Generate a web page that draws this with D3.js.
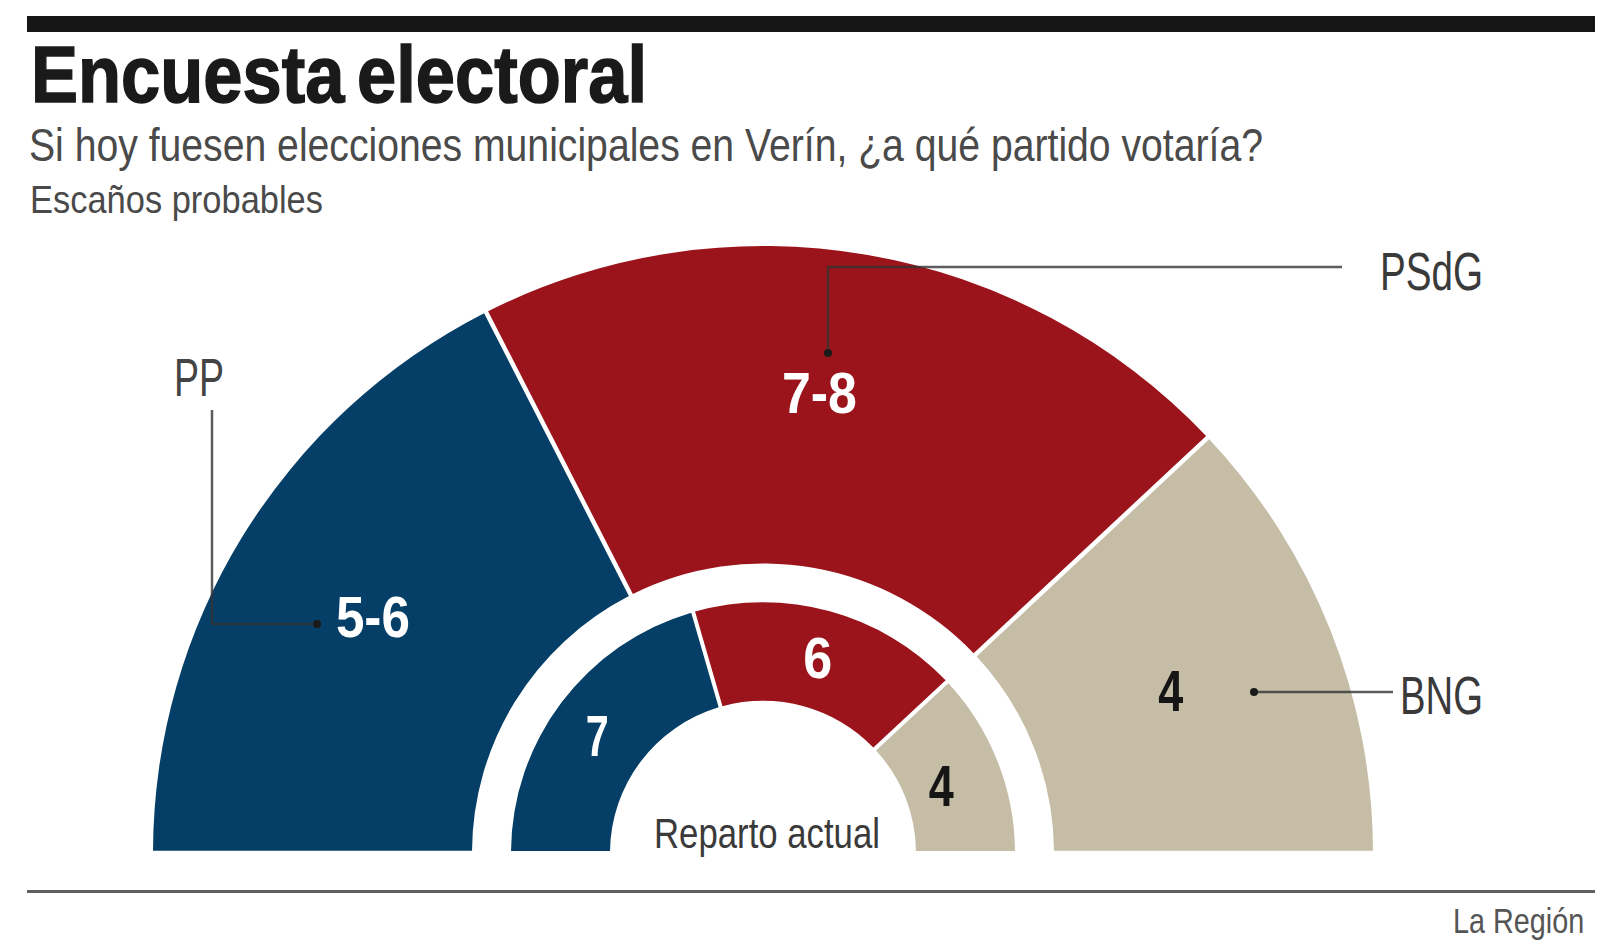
<!DOCTYPE html>
<html>
<head>
<meta charset="utf-8">
<title>Encuesta electoral</title>
<script src="https://cdn.jsdelivr.net/npm/d3@7"></script>
<style>
  html, body { margin: 0; padding: 0; background: #fff; }
  svg { display: block; }
</style>
</head>
<body>
<div id="chart"></div>
<script>
// Data
const parties = ["PP", "PSdG", "BNG"]
const probableLabels = ["5-6", "7-8", "4"]
const currentLabels = ["7", "6", "4"]
// degrees of the half circle each slice takes, measured on the picture
const probableShares = [63, 73.8, 43.2]
const currentShares = [73.9, 63, 43.1]
const partyColors = ["#053f67", "#9c141b", "#c5bda6"]
const labelColors = ["#ffffff", "#ffffff", "#151515"]

const svgWidth = 1600
const svgHeight = 945

const narrow = "'Liberation Sans Narrow', 'Liberation Sans', sans-serif"
const center = { x: 763, y: 853 }

let svg = d3
  .select("#chart")
  .append("svg")
  .attr("width", svgWidth)
  .attr("height", svgHeight)

// Seats around a half circle
let pie = d3
  .pie()
  .sort(null)
  .startAngle(-Math.PI / 2)
  .endAngle(Math.PI / 2)

let outerArc = d3.arc().innerRadius(291).outerRadius(610).padRadius(610).padAngle(4.5 / 610)
let innerArc = d3.arc().innerRadius(153).outerRadius(252).padRadius(252).padAngle(4 / 252)

let chartGroup = svg
  .append("g")
  .attr("transform", `translate(${center.x}, ${center.y})`)

function drawRing(values, labels, arc, offsets, widths) {
  let slices = pie(values)

  // the half circle in the picture is a little flatter than it is wide
  chartGroup
    .append("g")
    .attr("transform", "scale(1, 0.995)")
    .selectAll("path")
    .data(slices)
    .enter()
    .append("path")
    .attr("d", arc)
    .attr("fill", (d, i) => partyColors[i])

  chartGroup
    .append("g")
    .selectAll("text")
    .data(slices)
    .enter()
    .append("text")
    .attr("x", (d, i) => arc.centroid(d)[0] + offsets[i][0] - widths[i] / 2)
    .attr("y", (d, i) => arc.centroid(d)[1] + offsets[i][1])
    .attr("font-family", narrow)
    .attr("font-weight", "bold")
    .attr("font-size", 58)
    .attr("fill", (d, i) => labelColors[i])
    .attr("textLength", (d, i) => widths[i])
    .attr("lengthAdjust", "spacingAndGlyphs")
    .text((d, i) => labels[i])
}

drawRing(probableShares, probableLabels, outerArc, [[-6, 19], [-21, 4], [-11, 24]], [74, 75, 25])
drawRing(currentShares, currentLabels, innerArc, [[-4, 25], [1, 20], [-10, 27]], [23, 29, 25])

function addText(str, x, y, size, length, color, weight) {
  return svg
    .append("text")
    .attr("x", x)
    .attr("y", y)
    .attr("font-family", narrow)
    .attr("font-size", size)
    .attr("font-weight", weight || "normal")
    .attr("fill", color)
    .attr("textLength", length)
    .attr("lengthAdjust", "spacingAndGlyphs")
    .text(str)
}

// Header and footer
svg.append("rect").attr("x", 27).attr("y", 16).attr("width", 1568).attr("height", 16).attr("fill", "#161616")
svg.append("rect").attr("x", 27).attr("y", 890).attr("width", 1568).attr("height", 3).attr("fill", "#5f5f5f")

addText("Encuesta electoral", 31, 102, 80, 616, "#1a1a1a", "bold")
  .attr("word-spacing", -8)
  .attr("stroke", "#1a1a1a")
  .attr("stroke-width", 1.5)
addText("Si hoy fuesen elecciones municipales en Verín, ¿a qué partido votaría?", 29, 161, 46, 1234, "#4a4a4a")
addText("Escaños probables", 30, 213, 39, 293, "#4a4a4a")
addText("Reparto actual", 654, 848, 42, 226, "#3a3a3a")

// squeezed by hand, textLength trips the edge check on this one
svg
  .append("text")
  .attr("transform", "translate(1453, 933) scale(0.8, 1)")
  .attr("font-family", "'Liberation Sans', sans-serif")
  .attr("font-size", 36)
  .attr("fill", "#555555")
  .text("La Región")

// Party names and their leader lines
addText(parties[0], 174, 396, 54, 50, "#444444")
addText(parties[1], 1380, 290, 54, 103, "#3a3a3a")
addText(parties[2], 1400, 714, 54, 83, "#3a3a3a")

let leaders = [
  { party: "PP", points: [[212, 410], [212, 624], [317, 624]] },
  { party: "PSdG", points: [[1342, 267], [828, 267], [828, 353]] },
  { party: "BNG", points: [[1393, 692], [1254, 692]] }
]

let leaderLine = d3.line()

svg
  .selectAll("path.leader")
  .data(leaders)
  .enter()
  .append("path")
  .classed("leader", true)
  .attr("d", d => leaderLine(d.points))
  .attr("fill", "none")
  .attr("stroke", "#333333")
  .attr("stroke-opacity", 0.8)
  .attr("stroke-width", 2.5)

svg
  .selectAll("circle.leaderDot")
  .data(leaders)
  .enter()
  .append("circle")
  .classed("leaderDot", true)
  .attr("cx", d => d.points[d.points.length - 1][0])
  .attr("cy", d => d.points[d.points.length - 1][1])
  .attr("r", 4)
  .attr("fill", "#1a1a1a")
</script>
</body>
</html>
